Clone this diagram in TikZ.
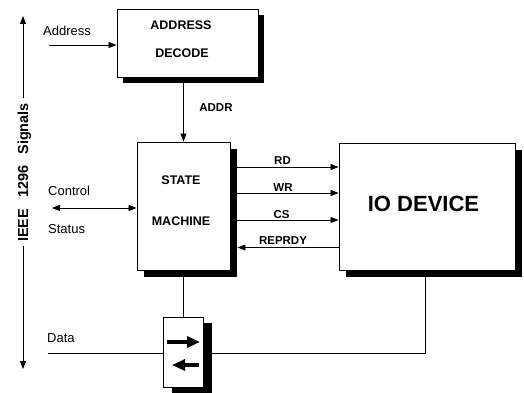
\documentclass[tikz,border=0pt]{standalone}
\usepackage{fontspec}
\setmainfont{Liberation Sans}
\usetikzlibrary{arrows.meta,shadows,calc}
\begin{document}
\begin{tikzpicture}[x=1pt,y=-1pt,
  box/.style={draw, line width=0.9pt, fill=white, inner sep=0pt},
  shd/.style 2 args={drop shadow={shadow xshift=#1, shadow yshift=-#2, fill=black, opacity=1}},
  lbl/.style={font=\fontsize{13}{15}\selectfont, anchor=base west, inner sep=0pt},
  ttl/.style={font=\bfseries\fontsize{12.5}{15}\selectfont, anchor=base, inner sep=0pt},
  sig/.style={font=\bfseries\fontsize{11.5}{14}\selectfont, anchor=base, inner sep=0pt},
  wire/.style={line width=0.8pt},
  arr/.style={wire, -{Triangle[length=8pt,width=6pt]}},
  darr/.style={wire, {Triangle[length=8pt,width=6pt]}-{Triangle[length=8pt,width=6pt]}},
  bigarr/.style={line width=3.2pt, -{Triangle[length=13pt,width=11pt]}},
]
\useasboundingbox[fill=white] (0,0) rectangle (524,393);

% boxes
\node[box, shd={6pt}{6pt}, minimum width=141pt, minimum height=68pt] (ad) at (187.5,43) {};
\node[box, shd={7pt}{7pt}, minimum width=93pt, minimum height=128pt] (sm) at (183.5,206) {};
\node[box, shd={7pt}{7pt}, minimum width=176pt, minimum height=127pt] (io) at (427,206.5) {};
\node[box, shd={9pt}{6pt}, minimum width=40pt, minimum height=70pt] (tr) at (183,352) {};

% box texts
\node[ttl] (adt1) at (181,30) {ADDRESS};
\node[ttl] (adt2) at (182,58) {DECODE};
\node[ttl] (smt1) at (181,184) {STATE};
\node[ttl] (smt2) at (181,225) {MACHINE};
\node[font=\bfseries\fontsize{22}{26}\selectfont, anchor=base, inner sep=0pt] (iot) at (423.5,211) {IO DEVICE};

% labels
\node[lbl] (addressl) at (43,36) {Address};
\node[lbl] (ctll) at (48,195) {Control};
\node[lbl] (stl) at (48,233) {Status};
\node[lbl] (datal) at (47,342) {Data};
\node[sig] (addrl) at (216,112) {ADDR};
\node[sig] (rdl) at (282.5,164) {RD};
\node[sig] (wrl) at (283,191) {WR};
\node[sig] (csl) at (281.5,218) {CS};
\node[sig] (rpl) at (283,244) {REPRDY};
\node[font=\bfseries\fontsize{14.5}{17}\selectfont, rotate=90, anchor=base, inner sep=0pt] (ieee) at (28,172.5) {IEEE\hspace{11pt}1296\hspace{11pt}Signals};

% IEEE arrows
\coordinate (sigtop) at (23,98);
\coordinate (sigup) at (23,16);
\coordinate (sigbot) at (23,246);
\coordinate (sigdown) at (23,369);
\draw[arr] (sigtop) -- (sigup);
\draw[arr] (sigbot) -- (sigdown);

% address in
\coordinate (addrin) at (49,45);
\draw[arr] (addrin) -- (addrin -| ad.west);

% ADDR
\draw[arr] ($(ad.south -| sm.north)+(0,6)$) -- (sm.north);

% control / status
\coordinate (ctl) at (52,208);
\draw[darr] (ctl) -- (ctl -| sm.west);

% signals
\coordinate (rd) at (0,167);
\coordinate (wr) at (0,193);
\coordinate (cs) at (0,220);
\coordinate (rp) at (0,247.5);
\draw[arr] ($(sm.east |- rd)+(7,0)$) -- (io.west |- rd);
\draw[arr] ($(sm.east |- wr)+(7,0)$) -- (io.west |- wr);
\draw[arr] ($(sm.east |- cs)+(7,0)$) -- (io.west |- cs);
\draw[arr] (io.west |- rp) -- ($(sm.east |- rp)+(7,0)$);

% data path
\draw[wire] ($(tr.north |- sm.south)+(0,7)$) -- (tr.north);
\coordinate (datain) at (48,353);
\draw[wire] (datain) -- (datain -| tr.west);
\draw[wire] ($(tr.east |- datain)+(9,0)$) -| ($(io.south)+(-2,7)$);

% transceiver arrows
\draw[bigarr] ($(tr)+(-16,-10)$) -- ($(tr)+(17,-10)$);
\draw[bigarr] ($(tr)+(16,13)$) -- ($(tr)+(-11,13)$);
\end{tikzpicture}
\end{document}
